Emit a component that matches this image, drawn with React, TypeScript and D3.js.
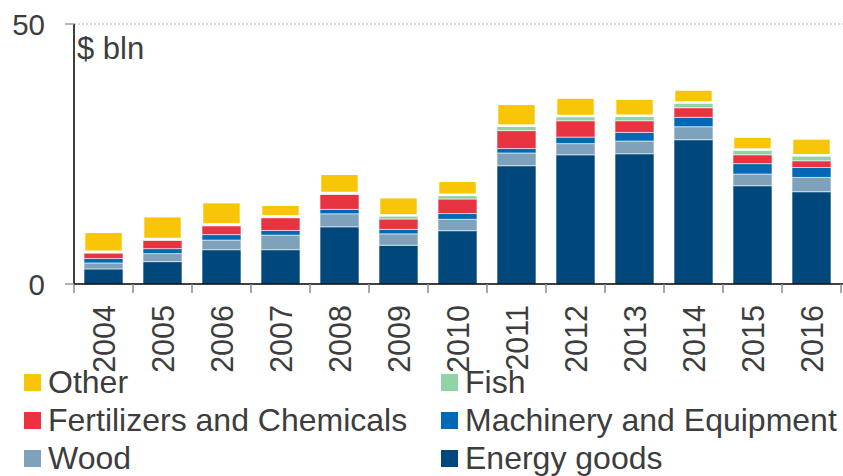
import React from "react";
import * as d3 from "d3";

const years = ["2004", "2005", "2006", "2007", "2008", "2009", "2010", "2011", "2012", "2013", "2014", "2015", "2016"];
const energy = [2.9, 4.3, 6.6, 6.6, 11.0, 7.45, 10.25, 22.75, 24.85, 25.05, 27.75, 18.9, 17.75];
const wood = [1.15, 1.55, 1.85, 2.8, 2.5, 2.2, 2.2, 2.45, 2.15, 2.45, 2.5, 2.25, 2.75];
const machinery = [0.85, 0.95, 1.05, 0.9, 0.85, 0.85, 1.1, 0.85, 1.25, 1.65, 1.8, 2.0, 1.9];
const fertilizers = [1.05, 1.6, 1.7, 2.45, 2.9, 2.0, 2.8, 3.45, 3.15, 2.25, 1.85, 1.7, 1.3];
const fish = [0.25, 0.25, 0.25, 0.25, 0.25, 0.7, 0.8, 0.95, 0.9, 0.95, 1.0, 1.0, 1.05];
const other = [3.85, 4.4, 4.3, 2.25, 3.7, 3.5, 2.7, 4.2, 3.55, 3.3, 2.5, 2.5, 3.25];
const yTicks = [0, 50];

const keys = ["energy", "wood", "machinery", "fertilizers", "fish", "other"];
const labels: Record<string, string> = {
  energy: "Energy goods",
  wood: "Wood",
  machinery: "Machinery and Equipment",
  fertilizers: "Fertilizers and Chemicals",
  fish: "Fish",
  other: "Other",
};
const colors: Record<string, string> = {
  energy: "#00477b",
  wood: "#7fa2bc",
  machinery: "#0068b5",
  fertilizers: "#e83440",
  fish: "#90d4a6",
  other: "#f9c607",
};
// legend order: left column then right column, row by row
const legendRows = [["other", "fish"], ["fertilizers", "machinery"], ["wood", "energy"]];

const W = 843;
const H = 476;
const left = 74;
const right = 841;
const top = 24;
const bottom = 284;
const textColor = "#3d3d3d";
const font = "'Liberation Sans', Arial, sans-serif";

export default function App() {
  const table = years.map((y, i) => ({
    year: y,
    energy: energy[i],
    wood: wood[i],
    machinery: machinery[i],
    fertilizers: fertilizers[i],
    fish: fish[i],
    other: other[i],
  }));
  const series = d3.stack<any>().keys(keys)(table);

  const x = d3.scaleBand().domain(years).range([left, right]).paddingInner(0.34).paddingOuter(0.17);
  const y = d3.scaleLinear().domain([0, 50]).range([bottom, top]);
  const step = x.step();

  return (
    <svg width={W} height={H} style={{ position: "absolute", left: 0, top: 0, background: "#fff" }} fontFamily={font}>
      {/* gridline at the top */}
      <line x1={left} x2={W} y1={y(50)} y2={y(50)} stroke="#c8c8c8" strokeWidth={1.5} strokeDasharray="2,2" />

      {series.map((s) => (
        <g key={s.key}>
          {s.map((d, i) => (
            <rect
              key={i}
              x={x(years[i])}
              width={x.bandwidth()}
              y={y(d[1])}
              height={Math.max(0, y(d[0]) - y(d[1]))}
              fill={colors[s.key]}
              stroke={s.key === "other" ? "#fff" : "rgba(255,255,255,0.55)"}
              strokeWidth={s.key === "other" ? 2.5 : 1}
            />
          ))}
        </g>
      ))}

      {/* axes */}
      <line x1={left} x2={left} y1={y(50)} y2={bottom} stroke="#000" strokeWidth={1.5} />
      <line x1={left} x2={W} y1={bottom} y2={bottom} stroke="#000" strokeWidth={1.5} />
      {yTicks.map((t) => (
        <g key={t}>
          <line x1={left - 9} x2={left} y1={y(t)} y2={y(t)} stroke="#9a9a9a" strokeWidth={1.5} />
          <text x={45} y={y(t) + 10.5} textAnchor="end" fontSize={29.5} fill={textColor}>
            {t}
          </text>
        </g>
      ))}
      {years.map((yr, i) => (
        <line key={yr} x1={left + i * step} x2={left + i * step} y1={bottom} y2={bottom + 9} stroke="#8a8a8a" strokeWidth={1.5} />
      ))}
      <line x1={right} x2={right} y1={bottom} y2={bottom + 9} stroke="#8a8a8a" strokeWidth={1.5} />

      {years.map((yr) => {
        const cx = (x(yr) as number) + x.bandwidth() / 2 + 11;
        return (
          <text key={yr} transform={`translate(${cx},${bottom + 21}) rotate(-90)`} textAnchor="end" fontSize={30.5} fill={textColor}>
            {yr}
          </text>
        );
      })}

      <text x={77} y={59} fontSize={31} fill={textColor}>
        $ bln
      </text>

      {legendRows.map((row, r) =>
        row.map((k, c) => {
          const lx = c === 0 ? 24 : 441;
          const ly = 374 + r * 38;
          return (
            <g key={k}>
              <rect x={lx} y={ly} width={17} height={17} fill={colors[k]} />
              <text x={lx + 24} y={ly + 19} fontSize={32} fill={textColor}>
                {labels[k]}
              </text>
            </g>
          );
        })
      )}
    </svg>
  );
}
